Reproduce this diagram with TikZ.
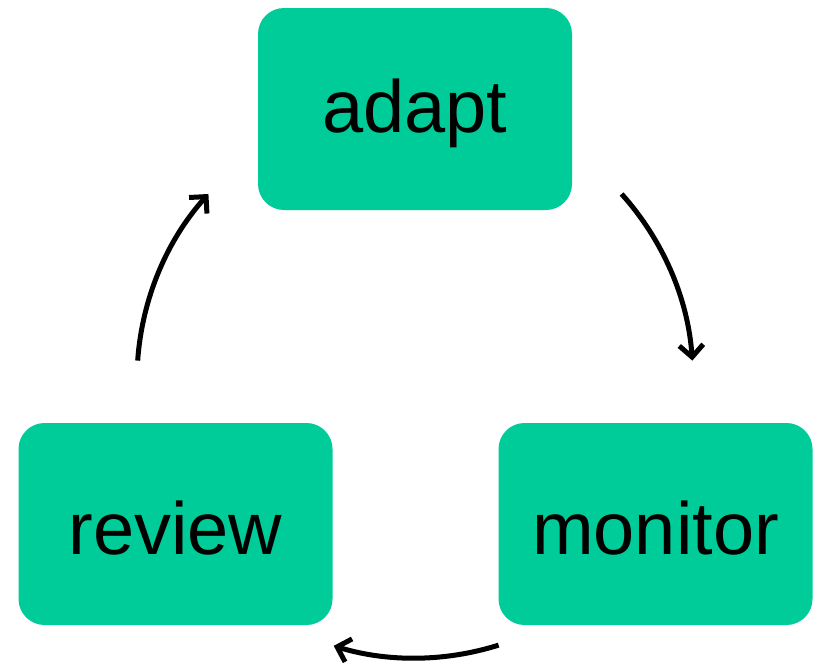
\documentclass[tikz,border=0pt]{standalone}
\usepackage{fontspec}
\setmainfont{Liberation Sans}
\usetikzlibrary{arrows.meta,calc}
\definecolor{boxgreen}{HTML}{00CC99}
\newcommand{\lowertext}[1]{\raisebox{-4pt}[\height][\depth]{#1}}
\begin{document}
\begin{tikzpicture}[x=1pt,y=-1pt,
  stagebox/.style={fill=boxgreen, rounded corners=26pt, minimum width=314pt, minimum height=202pt, inner sep=0pt, font=\fontsize{74}{80}\selectfont},
  cyclearrow/.style={line width=5pt, -{Straight Barb[length=12pt,width=24pt,line width=5pt]}}]
\useasboundingbox (0,0) rectangle (816,667);
\node[stagebox] (adapt) at (415,109) {\lowertext{adapt}};
\node[stagebox] (review) at (175.5,524) {\lowertext{review}};
\node[stagebox] (monitor) at (655.5,524) {\lowertext{monitor}};
\coordinate (c) at (415,380);
\coordinate (s1) at ($(c)+(-42:278)$);
\coordinate (s2) at ($(c)+(72.5:278)$);
\coordinate (s3) at ($(c)+(-176:278)$);
\draw[cyclearrow] (s1) arc[start angle=-42, end angle=-4, radius=278];
\draw[cyclearrow] (s2) arc[start angle=72.5, end angle=107, radius=278];
\draw[cyclearrow] (s3) arc[start angle=-176, end angle=-138, radius=278];
\end{tikzpicture}
\end{document}
